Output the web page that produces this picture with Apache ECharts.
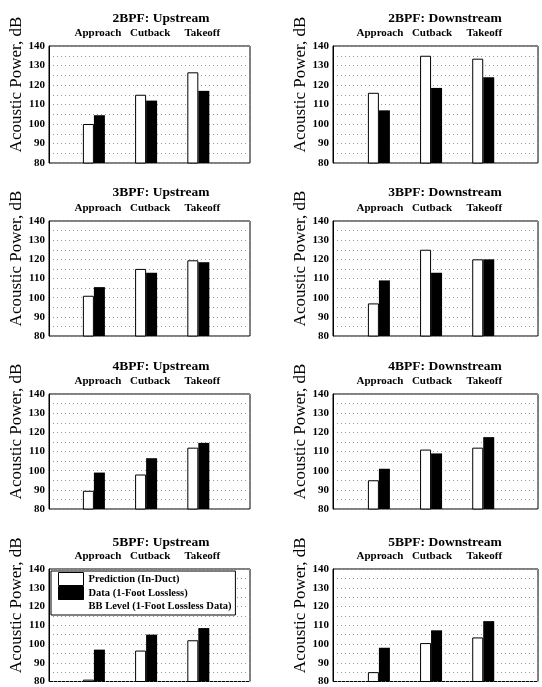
<!DOCTYPE html>
<html>
<head>
<meta charset="utf-8">
<script src="https://cdn.jsdelivr.net/npm/echarts@6/dist/echarts.min.js"></script>
<style>html,body{margin:0;padding:0;background:#fff}#c{width:542px;height:687px}</style>
</head>
<body>
<div id="c"></div>
<script>
// ---- data ----
var categories = ['Approach', 'Cutback', 'Takeoff'];
var panelTitles = ['2BPF: Upstream', '2BPF: Downstream', '3BPF: Upstream', '3BPF: Downstream',
                   '4BPF: Upstream', '4BPF: Downstream', '5BPF: Upstream', '5BPF: Downstream'];
var yTicks = [80, 90, 100, 110, 120, 130, 140];
var pred2Up   = [100, 115, 126.5];   var data2Up   = [104.5, 112, 117];
var pred2Down = [116, 135, 133.5];   var data2Down = [107, 118.5, 124];
var pred3Up   = [101, 115, 119.5];   var data3Up   = [105.5, 113, 118.5];
var pred3Down = [97, 125, 120];      var data3Down = [109, 113, 120];
var pred4Up   = [89.5, 98, 112];     var data4Up   = [99, 106.5, 114.5];
var pred4Down = [95, 111, 112];      var data4Down = [101, 109, 117.5];
var pred5Up   = [81, 96.5, 102];     var data5Up   = [97, 105, 108.5];
var pred5Down = [85, 100.5, 103.5];  var data5Down = [98, 107.3, 112.2];
var bbLevel = []; // not visible in the figure
var seriesNames = ['Prediction (In-Duct)', 'Data (1-Foot Lossless)', 'BB Level (1-Foot Lossless Data)'];

var predAll = [pred2Up, pred2Down, pred3Up, pred3Down, pred4Up, pred4Down, pred5Up, pred5Down];
var dataAll = [data2Up, data2Down, data3Up, data3Down, data4Up, data4Down, data5Up, data5Down];

// ---- layout ----
var colLeft = [49, 333], colWidth = [201, 205];
var colMin = [0.14, 0.12], colMax = [3.99, 4.05];
var titleX = [156, 440];
var rowTop = [46, 221, 394, 569], rowBottom = [163, 336, 509, 685];
var titleTop = [7, 181, 355, 531];
var FONT = 'Liberation Serif';

var grids = [], xAxes = [], yAxes = [], series = [], titles = [];
for (var i = 0; i < 8; i++) {
  var col = i % 2, row = Math.floor(i / 2);
  grids.push({left: colLeft[col], top: rowTop[row], width: colWidth[col], height: rowBottom[row] - rowTop[row],
    show: true, borderColor: '#000', borderWidth: 1, backgroundColor: '#fff'});
  titles.push({text: panelTitles[i], left: titleX[col], top: titleTop[row], textAlign: 'center',
    textStyle: {fontFamily: FONT, fontSize: 13.5, fontWeight: 'bold', color: '#000'}});
  xAxes.push({gridIndex: i, type: 'value', position: 'top', min: colMin[col], max: colMax[col],
    axisLine: {show: false}, axisTick: {show: false}, splitLine: {show: false},
    axisLabel: {customValues: [1, 2, 3], margin: 7, color: '#000', fontFamily: FONT, fontSize: 11, fontWeight: 'bold',
      padding: [0, 0, 0, col === 0 ? 8 : 2],
      formatter: function (v) { return categories[Math.round(v) - 1] || ''; }}});
  yAxes.push({gridIndex: i, type: 'value', min: yTicks[0], max: yTicks[yTicks.length - 1], interval: 10,
    name: 'Acoustic Power, dB', nameLocation: 'middle', nameGap: 24,
    nameTextStyle: {fontFamily: FONT, fontSize: 17, color: '#000', padding: [0, 0, 0, 40]},
    axisLine: {show: true, lineStyle: {color: '#000'}}, axisTick: {show: false},
    axisLabel: {margin: 4, color: '#000', fontFamily: FONT, fontSize: 11, fontWeight: 'bold'},
    splitLine: {show: true, lineStyle: {color: '#999', type: [1, 3], width: 1}},
    minorTick: {show: false, splitNumber: 2},
    minorSplitLine: {show: true, lineStyle: {color: '#999', type: [1, 3], width: 1}}});
  series.push({name: seriesNames[0], type: 'bar', xAxisIndex: i, yAxisIndex: i, barWidth: 11, barGap: '0%',
    itemStyle: {color: '#fff', borderColor: '#000', borderWidth: 1},
    data: predAll[i].map(function (v, k) { return [k + 1, v]; })});
  series.push({name: seriesNames[1], type: 'bar', xAxisIndex: i, yAxisIndex: i, barWidth: 11, barGap: '0%',
    itemStyle: {color: '#000'},
    data: dataAll[i].map(function (v, k) { return [k + 1, v]; })});
}
series.push({name: seriesNames[2], type: 'line', xAxisIndex: 6, yAxisIndex: 6, data: bbLevel, symbol: 'none',
  lineStyle: {color: '#000', type: 'dotted'}});

var chart = echarts.init(document.getElementById('c'), null, {renderer: 'canvas'});
chart.setOption({
  animation: false,
  backgroundColor: '#fff',
  title: titles,
  grid: grids,
  xAxis: xAxes,
  yAxis: yAxes,
  legend: {
    orient: 'vertical', left: 51, top: 571, padding: [1, 4, 2, 7], itemGap: 0,
    itemWidth: 25, itemHeight: 13, borderColor: '#000', borderWidth: 1, backgroundColor: '#fff',
    textStyle: {fontFamily: FONT, fontSize: 10.5, fontWeight: 'bold', color: '#000'},
    selectedMode: false,
    data: [
      {name: seriesNames[0], icon: 'rect', itemStyle: {color: '#fff', borderColor: '#000', borderWidth: 1}},
      {name: seriesNames[1], icon: 'rect', itemStyle: {color: '#000', borderColor: '#000', borderWidth: 1}},
      {name: seriesNames[2], icon: 'rect', itemStyle: {color: 'rgba(0,0,0,0)', borderWidth: 0}}
    ]
  },
  series: series
});
</script>
</body>
</html>
